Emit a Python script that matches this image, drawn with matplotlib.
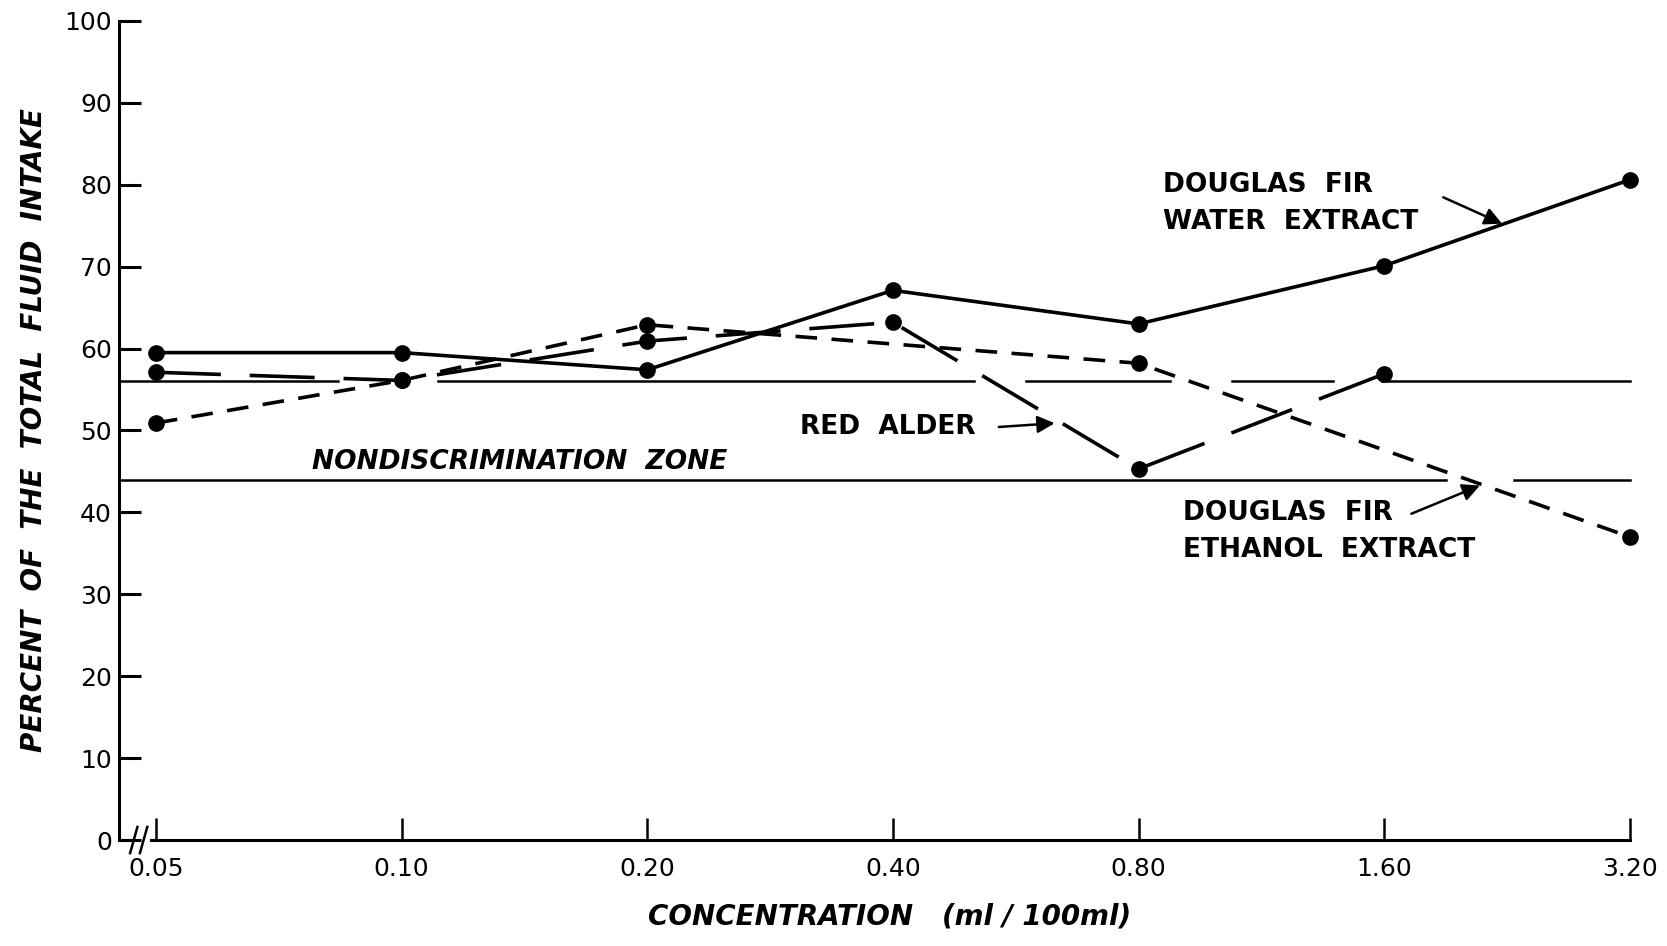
import numpy as np
import matplotlib
matplotlib.use("Agg")
from matplotlib import pyplot as plt

# concentrations (ml/100ml), plotted at equal spacing (doubling series)
conc_labels = ["0.05", "0.10", "0.20", "0.40", "0.80", "1.60", "3.20"]
conc_pos = np.arange(len(conc_labels))

# percent of total fluid intake
water_x = [0, 1, 2, 3, 4, 5, 6]
water_y = [59.5, 59.5, 57.4, 67.1, 63.0, 70.1, 80.6]

ethanol_x = [0, 1, 2, 4, 6]
ethanol_y = [50.9, 56.1, 62.9, 58.2, 37.0]

alder_x = [0, 1, 2, 3, 4, 5]
alder_y = [57.1, 56.1, 60.9, 63.2, 45.3, 56.9]

# nondiscrimination zone limits
zone_hi = 56.0
zone_lo = 44.0
# breaks the draftsman left where curves cross the zone lines
hi_segments = [(-0.15, 0.74), (1.15, 3.33), (3.54, 4.13), (4.38, 4.79), (4.99, 6.0)]
lo_segments = [(-0.15, 5.25), (5.53, 6.0)]

plt.rcParams['font.family'] = ['DejaVu Sans']

fig = plt.figure(figsize=(16.67, 9.46), dpi=100)
ax = fig.add_axes([0.0714, 0.112, 0.924, 0.866])

lw = 2.6
ms = 11
ax.plot(water_x, water_y, color='black', lw=lw, marker='o', ms=ms, clip_on=False, zorder=3)
ax.plot(ethanol_x, ethanol_y, color='black', lw=lw, ls=(0, (6, 4)), marker='o', ms=ms,
        clip_on=False, zorder=3)
ax.plot(alder_x, alder_y, color='black', lw=lw, ls=(0, (18, 8)), marker='o', ms=ms,
        clip_on=False, zorder=3)

for a, b in hi_segments:
    ax.plot([a, b], [zone_hi, zone_hi], color='black', lw=1.8)
for a, b in lo_segments:
    ax.plot([a, b], [zone_lo, zone_lo], color='black', lw=1.8)

ax.set_xlim(-0.15, 6.12)
ax.set_ylim(0, 100)

# axes frame: only left spine, bottom drawn by hand with break
for s in ['top', 'right', 'bottom']:
    ax.spines[s].set_visible(False)
ax.spines['left'].set_linewidth(2.2)

ax.plot([-0.15, -0.10], [0, 0], color='black', lw=2.2, clip_on=False)
ax.plot([-0.02, 6.0], [0, 0], color='black', lw=2.2, clip_on=False)
# axis break marks
ax.plot([-0.105, -0.075], [-1.6, 1.6], color='black', lw=1.8, clip_on=False)
ax.plot([-0.065, -0.035], [-1.6, 1.6], color='black', lw=1.8, clip_on=False)

ax.set_xticks(conc_pos)
ax.set_xticklabels(conc_labels)
ax.set_yticks(np.arange(0, 101, 10))
ax.tick_params(axis='x', direction='in', length=16, width=1.8, pad=12, labelsize=18)
ax.tick_params(axis='y', direction='in', length=16, width=2.2, pad=5, labelsize=18)

ax.set_ylabel("PERCENT  OF  THE  TOTAL  FLUID  INTAKE", fontsize=20, style='italic',
              fontweight='bold', labelpad=12)
ax.set_xlabel("CONCENTRATION   (ml / 100ml)", fontsize=20, style='italic',
              fontweight='bold', labelpad=16)

txt = dict(fontsize=19, fontweight='bold', color='black', va='center', ha='left',
           linespacing=1.55)
arr = dict(arrowstyle='-|>', color='black', lw=1.8, mutation_scale=26)

ax.text(1.48, 46.2, "NONDISCRIMINATION  ZONE", fontsize=19, style='italic',
        fontweight='bold', ha='center', va='center')

ax.text(4.10, 77.7, "DOUGLAS  FIR\nWATER  EXTRACT", **txt)
ax.annotate("", xy=(5.49, 75.1), xytext=(5.23, 78.6), arrowprops=arr)

ax.text(2.62, 50.4, "RED  ALDER", **txt)
ax.annotate("", xy=(3.67, 50.9), xytext=(3.42, 50.4), arrowprops=arr)

ax.text(4.18, 37.7, "DOUGLAS  FIR\nETHANOL  EXTRACT", **txt)
ax.annotate("", xy=(5.40, 43.4), xytext=(5.10, 39.7), arrowprops=arr)

fig.savefig("out.png", dpi=100)
